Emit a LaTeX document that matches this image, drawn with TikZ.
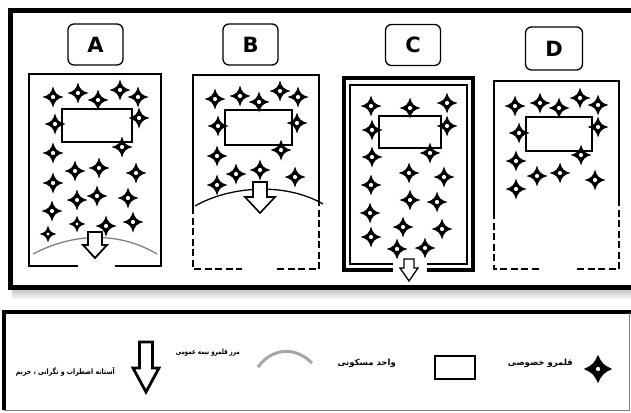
\documentclass[tikz,border=0pt]{standalone}
\usepackage{fontspec}
\setmainfont{DejaVu Sans}
\newfontfamily\arabicfont[Script=Arabic]{DejaVu Sans}
\TeXXeTstate=1
\newcommand\hollowarr[7]{% cx, top, w, W, headstart, tip, linewidth
  \draw[harr, line width=#7] (#1-#3,#2) -- (#1+#3,#2) -- (#1+#3,#5) -- (#1+#4,#5) -- (#1,#6) -- (#1-#4,#5) -- (#1-#3,#5) -- cycle;}
\begin{document}
\begin{tikzpicture}[x=1pt,y=-1pt,
  frame/.style={line width=4.5pt},
  panel/.style={line width=2pt, line join=miter},
  dashpanel/.style={line width=1.8pt, dash pattern=on 7pt off 3.5pt},
  house/.style={draw, line width=2pt, fill=white},
  lbl/.style={draw, line width=1.3pt, rounded corners=6pt, minimum width=55pt, minimum height=41pt, inner sep=0pt, font=\fontsize{21}{21}\selectfont\bfseries},
  harr/.style={draw=black, fill=white, line join=miter},
  ptext/.style={font=\arabicfont\bfseries\fontsize{8.5}{9}\selectfont, anchor=east, inner sep=0pt},
  ptextsmall/.style={font=\arabicfont\bfseries\fontsize{7.5}{9}\selectfont, anchor=east, inner sep=0pt},
  kstar/.pic={
    \fill[black] (0,-10.5) .. controls (2.3,-3.3) and (3.3,-2.3) .. (10.5,0)
      .. controls (3.3,2.3) and (2.3,3.3) .. (0,10.5)
      .. controls (-2.3,3.3) and (-3.3,2.3) .. (-10.5,0)
      .. controls (-3.3,-2.3) and (-2.3,-3.3) .. cycle;
    \fill[white] (0,0) circle (2.1);
  },
  kstarbold/.pic={
    \fill[black] (0,-10.5) .. controls (3,-4) and (4,-3) .. (10.5,0)
      .. controls (4,3) and (3,4) .. (0,10.5)
      .. controls (-3,4) and (-4,3) .. (-10.5,0)
      .. controls (-4,-3) and (-3,-4) .. cycle;
    \fill[white] (0,0) circle (1.6);
  }
]
\useasboundingbox (0,0) rectangle (631,412);
\fill[white] (0,0) rectangle (631,412);

% top frame with shadow
\shade[top color=gray!45, bottom color=white] (12,289.5) rectangle (631,300);
\draw[frame] (631,10.5) -- (10.5,10.5) -- (10.5,287.5) -- (631,287.5);

% labels
\node[lbl] (la) at (95.5,44.5) {A};
\node[lbl] (lb) at (250.5,44.5) {B};
\node[lbl] (lc) at (413,45) {C};
\node[lbl, minimum width=57pt, minimum height=43pt] (ld) at (554,48.5) {D};

% ---------- Panel A ----------
\draw[panel] (78,266) -- (29,266) -- (29,74) -- (161,74) -- (161,266) -- (115,266);
\draw[house] (62,109) rectangle (132,142);
\foreach \x/\y in {53/97,78/93,98/100,120/90,138/97,55/124,139/118,122/147,53/153,
  75/171,99/168,136/173,53/183,77/200,97/196,128/198,52/211,106/226,133/222}
  \pic at (\x,\y) {kstar};
\foreach \x/\y in {77/224,48/234}
  \pic[scale=0.8] at (\x,\y) {kstar};
\draw[gray, line width=1.3pt] (33,254) .. controls (75,232) and (120,232) .. (157,254);
\hollowarr{95}{232}{7}{12}{245}{258}{1.8pt}

% ---------- Panel B ----------
\draw[panel] (193,207) -- (193,75) -- (319,75) -- (319,202);
\draw[dashpanel] (193,207) -- (193,269) -- (242,269);
\draw[dashpanel] (277,269) -- (319,269) -- (319,202);
\draw[house] (225,110) rectangle (292,145);
\foreach \x/\y in {215/99,240/96,259/102,280/91,298/97,218/126,297/123,281/150,
  217/156,236/174,260/170,295/177,217/185}
  \pic at (\x,\y) {kstar};
\draw[black, line width=1.3pt] (195,206) .. controls (230,186) and (285,182) .. (323,204);
\hollowarr{260}{182}{7}{15}{197}{213}{1.6pt}

% ---------- Panel C ----------
\draw[line width=4pt, line join=miter] (393,270) -- (344,270) -- (344,78) -- (473,78) -- (473,270) -- (427,270);
\draw[line width=1.5pt, line join=miter] (393,264) -- (350,264) -- (350,85) -- (467,85) -- (467,264) -- (427,264);
\draw[house] (379,116) rectangle (441,148);
\foreach \x/\y in {371/106,410/108,447/103,372/130,447/126,430/153,372/157,409/173,
  444/177,371/185,410/200,437/202,370/213,403/227,442/229,371/237,397/249,425/248}
  \pic at (\x,\y) {kstar};
\hollowarr{409}{259}{5}{9}{268}{281}{1.3pt}

% ---------- Panel D ----------
\draw[panel] (494,212) -- (494,81) -- (619,81) -- (619,205);
\draw[dashpanel] (494,212) -- (494,269) -- (540,269);
\draw[dashpanel] (577,269) -- (619,269) -- (619,205);
\draw[house] (526,117) rectangle (592,151);
\foreach \x/\y in {515/106,540/103,559/108,580/98,598/105,519/133,598/127,581/155,
  516/161,537/176,560/173,595/180,516/189}
  \pic at (\x,\y) {kstar};

% ---------- Legend ----------
\draw[line width=4pt] (4,410) -- (4,311.5) -- (631,311.5);
\draw[gray, line width=1pt] (4,410) -- (629,410) -- (629,313);

\pic[scale=1.35] at (598,369) {kstarbold};
\node[ptext] (t1) at (573,363) {\beginR قلمرو خصوصی\endR};
\draw[line width=2.2pt] (435,356) rectangle (475,379);
\node[ptext] (t2) at (396,363) {\beginR واحد مسکونی\endR};
\draw[gray!70, line width=3pt] (258,367) .. controls (272,348) and (295,346) .. (312,363);
\node[ptextsmall] (t3) at (240,353) {\scalebox{0.74}[1]{\beginR مرز قلمرو نیمه عمومی\endR}};
\hollowarr{146}{342}{6.5}{13}{368}{392}{2.8pt}
\node[ptextsmall] (t4) at (115,372) {\scalebox{0.83}[1]{\beginR آستانه اضطراب و نگرانی ، حریم\endR}};
\end{tikzpicture}
\end{document}
